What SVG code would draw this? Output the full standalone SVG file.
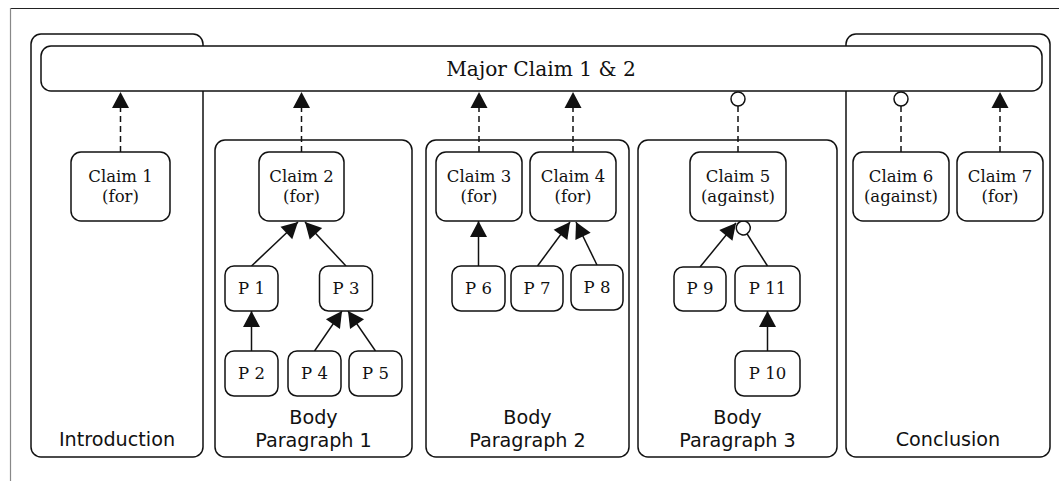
<svg xmlns="http://www.w3.org/2000/svg" width="1059" height="481" viewBox="0 0 1059 481">
<style>
.grp{fill:none;stroke:#111;stroke-width:1.5}
.box{fill:#fff;stroke:#111;stroke-width:1.5}
.lbl{font-family:"DejaVu Sans",sans-serif;font-size:19.2px;fill:#111;text-anchor:middle}
.ser{font-family:"DejaVu Serif",serif;font-size:16.5px;fill:#111;text-anchor:middle}
.big{font-family:"DejaVu Serif",serif;font-size:20.2px;fill:#111;text-anchor:middle}
.sup{stroke:#111;stroke-width:1.5;fill:none;marker-end:url(#arr)}
.att{stroke:#111;stroke-width:1.5;fill:none;marker-end:url(#circ)}
.dash{stroke-dasharray:6 4}
</style>
<defs>
<marker id="arr" markerUnits="userSpaceOnUse" markerWidth="17" markerHeight="17" refX="16" refY="8.5" orient="auto" overflow="visible">
<path d="M0,0 L16,8.5 L0,17 z" fill="#111"/>
</marker>
<marker id="circ" markerUnits="userSpaceOnUse" markerWidth="17" markerHeight="17" refX="15" refY="8" orient="auto" overflow="visible">
<circle cx="8" cy="8" r="7" fill="#fff" stroke="#111" stroke-width="1.5"/>
</marker>
</defs>
<rect width="1059" height="481" fill="#fff"/>
<line x1="10" y1="8.5" x2="1059" y2="8.5" stroke="#222" stroke-width="1.2"/>
<line x1="10.5" y1="8" x2="10.5" y2="481" stroke="#888" stroke-width="1.2"/>

<g id="introduction">
<rect class="grp" x="31" y="34" width="172" height="423" rx="10"/>
<text class="lbl" x="117" y="446">Introduction</text>
</g>
<g id="body1">
<rect class="grp" x="215" y="140" width="197" height="317" rx="10"/>
<text class="lbl" x="313.5" y="424">Body</text>
<text class="lbl" x="313.5" y="447">Paragraph 1</text>
</g>
<g id="body2">
<rect class="grp" x="426" y="140" width="203" height="317" rx="10"/>
<text class="lbl" x="527.5" y="424">Body</text>
<text class="lbl" x="527.5" y="447">Paragraph 2</text>
</g>
<g id="body3">
<rect class="grp" x="638" y="140" width="199" height="317" rx="10"/>
<text class="lbl" x="737.5" y="424">Body</text>
<text class="lbl" x="737.5" y="447">Paragraph 3</text>
</g>
<g id="conclusion">
<rect class="grp" x="846" y="34" width="204" height="423" rx="10"/>
<text class="lbl" x="948" y="446">Conclusion</text>
</g>

<g id="major">
<rect class="box" x="41" y="46" width="1001" height="45" rx="10"/>
<text class="big" x="541" y="75.5">Major Claim 1 &amp; 2</text>
</g>

<g id="connectors">
<line class="sup dash" x1="120.5" y1="152" x2="120.5" y2="92"/>
<line class="sup dash" x1="301.5" y1="152" x2="301.5" y2="92"/>
<line class="sup dash" x1="479" y1="152" x2="479" y2="92"/>
<line class="sup dash" x1="573" y1="152" x2="573" y2="92"/>
<line class="att dash" x1="738" y1="152" x2="738" y2="92"/>
<line class="att dash" x1="901" y1="152" x2="901" y2="92"/>
<line class="sup dash" x1="1000" y1="152" x2="1000" y2="92"/>
<line class="sup" x1="251.5" y1="266" x2="298" y2="222"/>
<line class="sup" x1="346" y1="266" x2="305" y2="222"/>
<line class="sup" x1="251.5" y1="351" x2="251.5" y2="311"/>
<line class="sup" x1="314.5" y1="351" x2="342" y2="311"/>
<line class="sup" x1="375.5" y1="351" x2="348" y2="311"/>
<line class="sup" x1="478.5" y1="266" x2="478.5" y2="221"/>
<line class="sup" x1="537.5" y1="266" x2="570" y2="222"/>
<line class="sup" x1="597" y1="265" x2="576" y2="222"/>
<line class="sup" x1="700" y1="267" x2="736" y2="223"/>
<line class="att" x1="767.5" y1="266" x2="739.5" y2="222"/>
<line class="sup" x1="767.5" y1="351" x2="767.5" y2="311"/>
</g>

<g id="claim1"><rect class="box" x="71" y="152" width="99" height="69" rx="10"/><text class="ser" x="120.5" y="181.5">Claim 1</text><text class="ser" x="120.5" y="201.5">(for)</text></g>
<g id="claim2"><rect class="box" x="259" y="152" width="85" height="69" rx="10"/><text class="ser" x="301.5" y="181.5">Claim 2</text><text class="ser" x="301.5" y="201.5">(for)</text></g>
<g id="claim3"><rect class="box" x="436" y="152" width="86" height="69" rx="10"/><text class="ser" x="479" y="181.5">Claim 3</text><text class="ser" x="479" y="201.5">(for)</text></g>
<g id="claim4"><rect class="box" x="530" y="152" width="86" height="69" rx="10"/><text class="ser" x="573" y="181.5">Claim 4</text><text class="ser" x="573" y="201.5">(for)</text></g>
<g id="claim5"><rect class="box" x="690" y="152" width="96" height="69" rx="10"/><text class="ser" x="738" y="181.5">Claim 5</text><text class="ser" x="738" y="201.5">(against)</text></g>
<g id="claim6"><rect class="box" x="853" y="152" width="96" height="69" rx="10"/><text class="ser" x="901" y="181.5">Claim 6</text><text class="ser" x="901" y="201.5">(against)</text></g>
<g id="claim7"><rect class="box" x="957" y="152" width="86" height="69" rx="10"/><text class="ser" x="1000" y="181.5">Claim 7</text><text class="ser" x="1000" y="201.5">(for)</text></g>

<g id="p1"><rect class="box" x="225" y="266" width="53" height="45" rx="9"/><text class="ser" x="251.5" y="294">P 1</text></g>
<g id="p3"><rect class="box" x="319.5" y="266" width="53" height="45" rx="9"/><text class="ser" x="346" y="294">P 3</text></g>
<g id="p2"><rect class="box" x="225" y="351" width="53" height="45" rx="9"/><text class="ser" x="251.5" y="379">P 2</text></g>
<g id="p4"><rect class="box" x="288" y="351" width="53" height="45" rx="9"/><text class="ser" x="314.5" y="379">P 4</text></g>
<g id="p5"><rect class="box" x="349" y="351" width="53" height="45" rx="9"/><text class="ser" x="375.5" y="379">P 5</text></g>
<g id="p6"><rect class="box" x="452" y="266" width="53" height="45" rx="9"/><text class="ser" x="478.5" y="294">P 6</text></g>
<g id="p7"><rect class="box" x="511" y="266" width="52" height="45" rx="9"/><text class="ser" x="537" y="294">P 7</text></g>
<g id="p8"><rect class="box" x="571" y="265" width="52" height="45" rx="9"/><text class="ser" x="597" y="293">P 8</text></g>
<g id="p9"><rect class="box" x="674" y="267" width="52" height="44" rx="9"/><text class="ser" x="700" y="294">P 9</text></g>
<g id="p11"><rect class="box" x="735" y="266" width="65" height="45" rx="9"/><text class="ser" x="767.5" y="294">P 11</text></g>
<g id="p10"><rect class="box" x="735" y="351" width="65" height="45" rx="9"/><text class="ser" x="767.5" y="379">P 10</text></g>
</svg>
